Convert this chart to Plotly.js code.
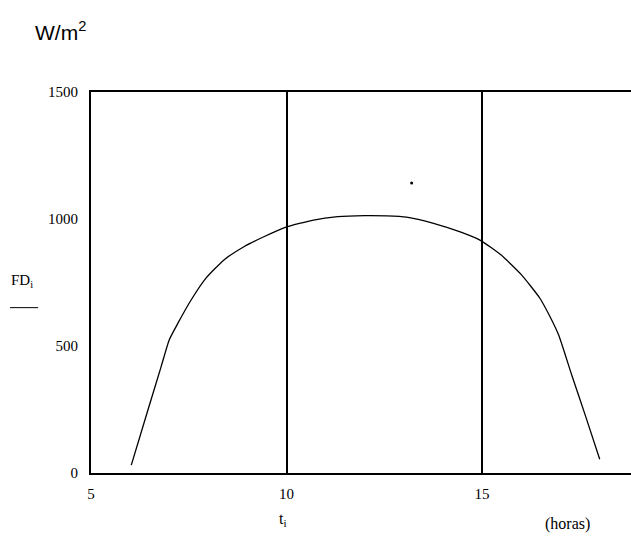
<!DOCTYPE html>
<html>
<head>
<meta charset="utf-8">
<script src="https://cdn.plot.ly/plotly-3.0.1.min.js"></script>
<style>
  body { margin: 0; background: #fff; }
  #graph { width: 631px; height: 547px; }
</style>
</head>
<body>
<div id="graph"></div>
<script>
// FD_i readings, W/m2 against hour t_i
var hours = [6.03, 6.45, 6.79, 7.0, 7.22, 7.56, 7.94, 8.4, 8.91, 9.42, 9.97, 10.69, 11.31, 12.0,
             12.56, 13.07, 13.76, 14.46, 14.97, 15.49, 16.01, 16.48, 16.74, 16.96, 17.3, 17.65, 18.01];
var fd = [31, 245, 417, 524, 589, 681, 767, 839, 891, 930, 967, 996, 1009, 1013,
          1012, 1007, 983, 948, 915, 858, 780, 688, 615, 543, 383, 223, 54];

// lone speck above the curve
var speckX = [13.2];
var speckY = [1142];

var xTicks = [5, 10, 15];
var yTicks = [0, 500, 1000, 1500];

var serif = 'Liberation Serif, Times New Roman, serif';

var curve = {
  x: hours,
  y: fd,
  type: 'scatter',
  mode: 'lines',
  line: { color: '#000', width: 1.3, shape: 'spline', smoothing: 0.5 },
  hoverinfo: 'skip'
};

var speck = {
  x: speckX,
  y: speckY,
  type: 'scatter',
  mode: 'markers',
  marker: { color: '#000', size: 3 },
  hoverinfo: 'skip'
};

var layout = {
  width: 631,
  height: 547,
  margin: { l: 91, r: 0, t: 92, b: 74 },
  paper_bgcolor: '#fff',
  plot_bgcolor: '#fff',
  showlegend: false,
  font: { family: serif, size: 15, color: '#000' },
  xaxis: {
    range: [5, 18.81],
    tickvals: xTicks,
    ticktext: xTicks.map(String),
    showgrid: true,
    gridcolor: '#000',
    gridwidth: 2,
    showline: true,
    linecolor: '#000',
    linewidth: 2,
    mirror: true,
    zeroline: false,
    ticks: '',
    ticklabelstandoff: 6,
    tickfont: { family: serif, size: 15, color: '#000' },
    fixedrange: true
  },
  yaxis: {
    range: [0, 1500],
    tickvals: yTicks,
    ticktext: yTicks.map(String),
    showgrid: false,
    showline: true,
    linecolor: '#000',
    linewidth: 2,
    mirror: false,
    zeroline: false,
    ticks: '',
    ticklabelstandoff: 8,
    tickfont: { family: serif, size: 15, color: '#000' },
    fixedrange: true
  },
  annotations: [
    { text: 'W/m<sup>2</sup>', xref: 'paper', yref: 'paper', x: -0.107, y: 1.16,
      xanchor: 'left', yanchor: 'middle', showarrow: false,
      font: { family: 'Liberation Sans, Arial, sans-serif', size: 21, color: '#000' } },
    { text: 'FD<sub>i</sub>', xref: 'paper', yref: 'paper', x: -0.152, y: 0.505,
      xanchor: 'left', yanchor: 'middle', showarrow: false,
      font: { family: serif, size: 15, color: '#000' } },
    { text: 't<sub>i</sub>', xref: 'paper', yref: 'paper', x: 0.3556, y: -0.123,
      xanchor: 'center', yanchor: 'middle', showarrow: false,
      font: { family: serif, size: 16, color: '#000' } },
    { text: '(horas)', xref: 'paper', yref: 'paper', x: 0.883, y: -0.134,
      xanchor: 'center', yanchor: 'middle', showarrow: false,
      font: { family: serif, size: 16, color: '#000' } }
  ],
  shapes: [
    { type: 'line', xref: 'paper', yref: 'paper', x0: -0.150, x1: -0.098, y0: 0.434, y1: 0.434,
      line: { color: '#000', width: 1 } }
  ]
};

Plotly.newPlot('graph', [curve, speck], layout, { staticPlot: true, displayModeBar: false });
</script>
</body>
</html>
